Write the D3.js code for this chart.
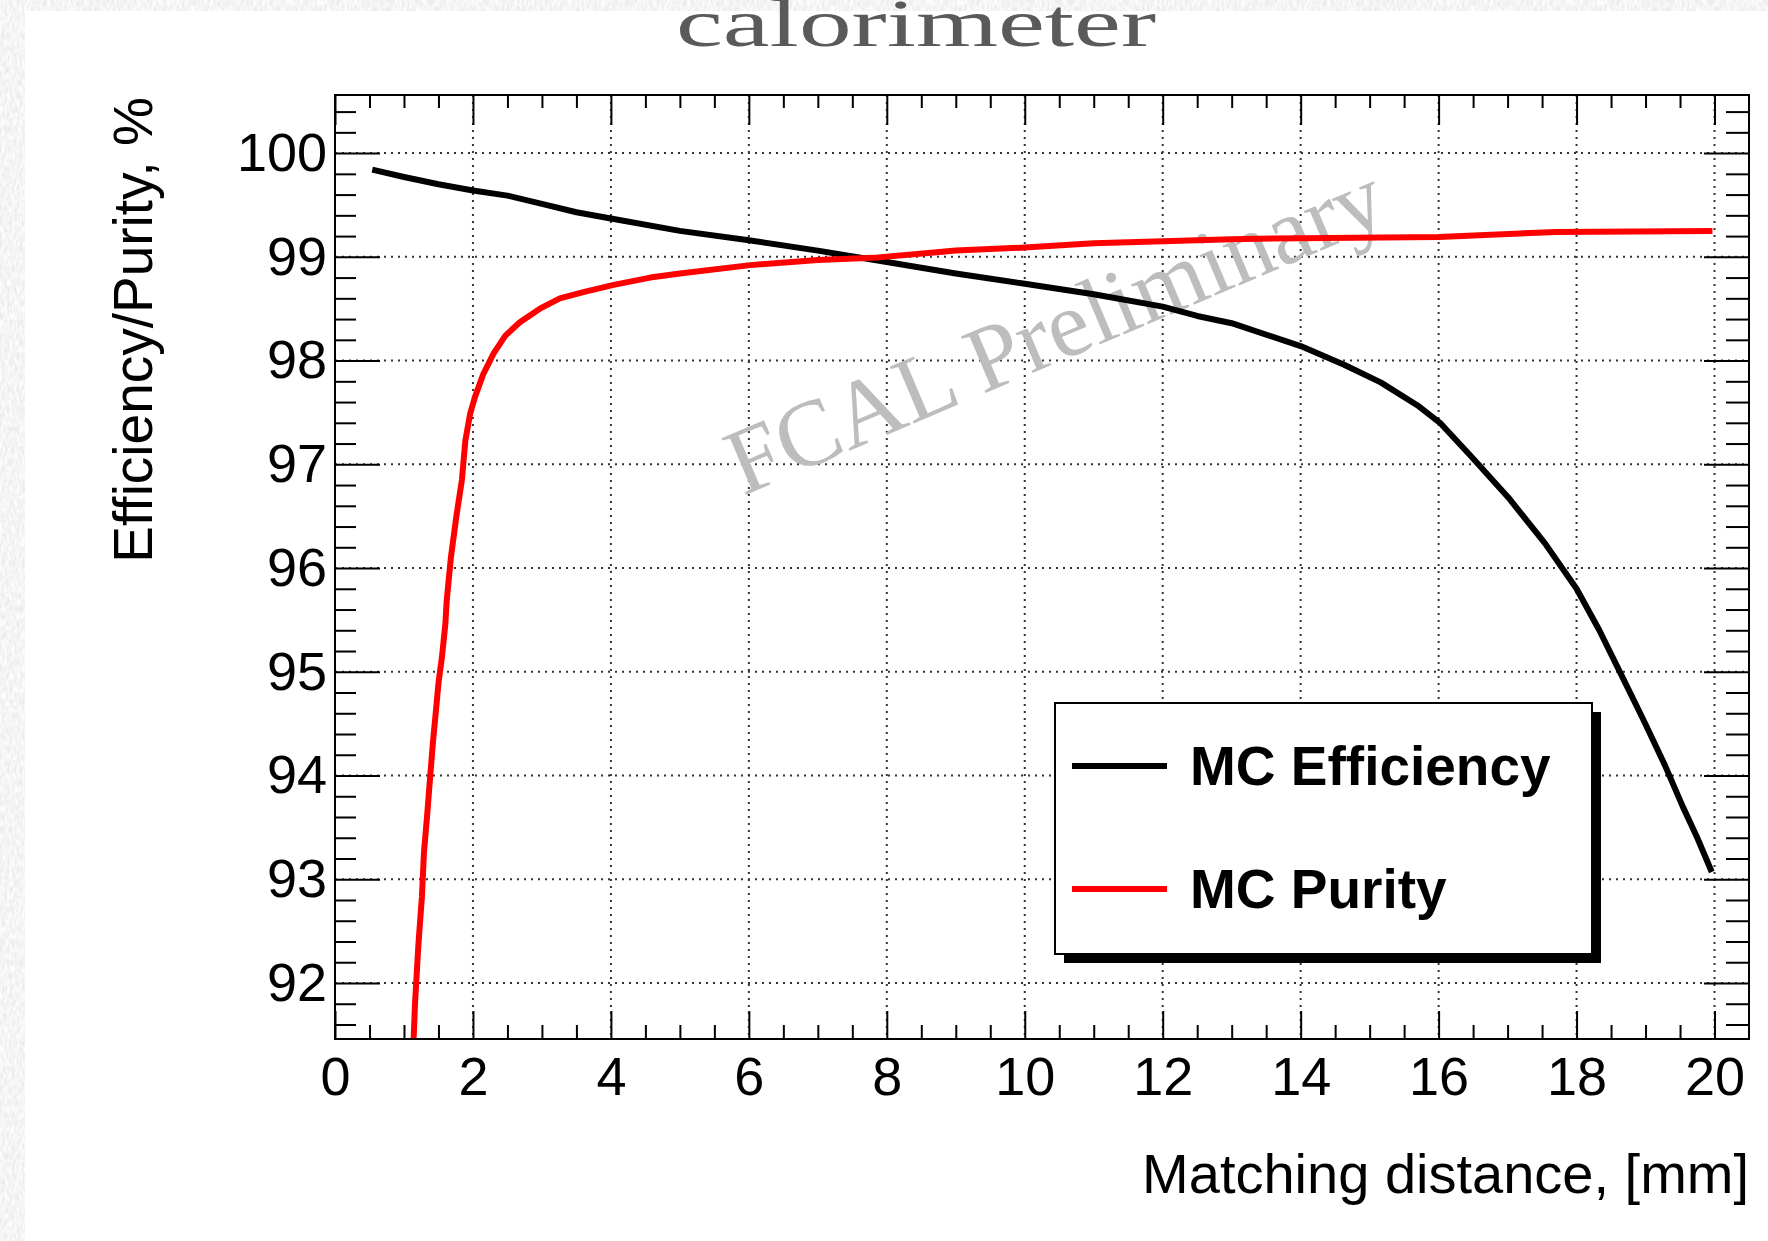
<!DOCTYPE html>
<html>
<head>
<meta charset="utf-8">
<script src="https://d3js.org/d3.v7.min.js"></script>
<style>
    body { margin: 0; background: #e4e4e4; }
    svg { display: block; font-family: "Liberation Sans", Arial, Helvetica, sans-serif; }
    .axis path { display: none; }
    .axis line { stroke: #000; stroke-width: 2; }
    .axis text { font-size: 54px; fill: #000; }
    .grid line { stroke: #333; stroke-width: 2; stroke-dasharray: 2 5; }
</style>
</head>
<body>
<svg id="chart"></svg>
<script>
    // values
    var effX = [0.54, 1.0, 1.5, 2.0, 2.5, 3.0, 3.5, 4.0, 5.0, 6.0, 7.0, 8.0, 9.0, 10.0, 11.0, 12.0, 12.5, 13.0, 14.0,
                14.63, 15.16, 15.69, 16.02, 16.48, 17.01, 17.54, 18.0, 18.33, 18.59, 18.96, 19.28, 19.54, 19.75, 19.96];
    var effY = [99.84, 99.77, 99.70, 99.64, 99.59, 99.51, 99.43, 99.37, 99.25, 99.16, 99.06, 98.95, 98.84, 98.74, 98.64, 98.52, 98.43, 98.36, 98.14,
                97.96, 97.79, 97.57, 97.40, 97.07, 96.68, 96.24, 95.80, 95.40, 95.05, 94.55, 94.10, 93.70, 93.40, 93.07];

    var purX = [1.14, 1.16, 1.21, 1.26, 1.29, 1.34, 1.38, 1.42, 1.46, 1.50, 1.55, 1.60, 1.62, 1.68, 1.76, 1.84, 1.89, 1.96, 2.03,
                2.15, 2.30, 2.47, 2.68, 2.97, 3.26, 3.60, 4.04, 4.57, 5.0, 6.02, 7.0, 7.8, 9.0, 10.0, 11.0, 12.0, 13.0, 14.0, 16.0, 17.7, 19.97];
    var purY = [91.46, 91.80, 92.38, 92.83, 93.26, 93.65, 93.99, 94.32, 94.60, 94.89, 95.14, 95.46, 95.69, 96.10, 96.50, 96.85, 97.23, 97.49, 97.65,
                97.87, 98.07, 98.24, 98.37, 98.50, 98.60, 98.66, 98.73, 98.80, 98.84, 98.92, 98.97, 98.99, 99.06, 99.09, 99.13, 99.15, 99.17, 99.18, 99.19, 99.24, 99.25];

    var xTicks = [0, 2, 4, 6, 8, 10, 12, 14, 16, 18, 20];
    var yTicks = [92, 93, 94, 95, 96, 97, 98, 99, 100];
    var seriesNames = ["MC Efficiency", "MC Purity"];
    var seriesColors = ["#000000", "#ff0000"];

    var W = 1768, H = 1241;
    var margin = {top: 95, right: 19, bottom: 202, left: 335};

    var x = d3.scaleLinear().domain([0, 20.5]).range([margin.left, W - margin.right]);
    var y = d3.scaleLinear().domain([91.46, 100.56]).range([H - margin.bottom, margin.top]);

    var xMinor = d3.range(0, 20.5, 0.5).filter(function(v) { return v % 2 !== 0; });
    var yMinor = d3.range(91.6, 100.56, 0.2).filter(function(v) { return Math.abs(v - Math.round(v)) > 0.01; });

    var svg = d3.select("#chart").attr("width", W).attr("height", H);

    // paper texture behind the slide
    var paper = svg.append("defs").append("filter").attr("id", "paper")
        .attr("x", 0).attr("y", 0).attr("width", 1).attr("height", 1);
    paper.append("feTurbulence").attr("type", "fractalNoise").attr("baseFrequency", "0.4 0.15").attr("numOctaves", 2);
    paper.append("feColorMatrix").attr("type", "matrix")
        .attr("values", "0.3 0 0 0 0.76  0.3 0 0 0 0.76  0.3 0 0 0 0.76  0 0 0 0 1");

    svg.append("rect").attr("width", W).attr("height", H).attr("filter", "url(#paper)");
    svg.append("rect").attr("x", 25).attr("y", 11).attr("width", W - 25).attr("height", H - 11).attr("fill", "#fff");

    svg.append("text")
        .attr("x", 676).attr("y", 46)
        .attr("textLength", 480).attr("lengthAdjust", "spacingAndGlyphs")
        .style("font-family", "'Liberation Serif', 'DejaVu Serif', serif")
        .style("font-size", "68px")
        .style("fill", "#5a5a5a")
        .text("calorimeter");

    var x0 = x.range()[0], x1 = x.range()[1], y0 = y.range()[1], y1 = y.range()[0];

    // dotted grid
    var grid = svg.append("g").attr("class", "grid");
    grid.selectAll(".gx").data(xTicks.filter(function(d) { return d > 0; })).enter().append("line")
        .attr("x1", function(d) { return x(d); }).attr("x2", function(d) { return x(d); })
        .attr("y1", y0).attr("y2", y1);
    grid.selectAll(".gy").data(yTicks).enter().append("line")
        .attr("x1", x0).attr("x2", x1)
        .attr("y1", function(d) { return y(d); }).attr("y2", function(d) { return y(d); });

    // watermark
    svg.append("text")
        .attr("transform", "translate(743,496) rotate(-23)")
        .style("font-family", "'Liberation Serif', 'Times New Roman', serif")
        .style("font-size", "94px")
        .style("fill", "#bdbdbd")
        .text("FCAL Preliminary");

    svg.append("clipPath").attr("id", "plotclip")
        .append("rect").attr("x", x0).attr("y", y0).attr("width", x1 - x0).attr("height", y1 - y0);

    var line = d3.line()
        .x(function(d) { return x(d[0]); })
        .y(function(d) { return y(d[1]); });

    var series = [d3.zip(effX, effY), d3.zip(purX, purY)];

    svg.append("g").attr("clip-path", "url(#plotclip)")
        .selectAll("path").data(series).enter().append("path")
        .attr("d", line)
        .attr("fill", "none")
        .attr("stroke", function(d, i) { return seriesColors[i]; })
        .attr("stroke-width", 6)
        .attr("stroke-linejoin", "round");

    // axes, ticks inside the frame
    svg.append("g").attr("class", "axis")
        .attr("transform", "translate(0," + y1 + ")")
        .call(d3.axisBottom(x).tickValues(xTicks).tickSize(-28).tickPadding(18).tickFormat(d3.format("d")));
    svg.append("g").attr("class", "axis")
        .attr("transform", "translate(0," + y1 + ")")
        .call(d3.axisBottom(x).tickValues(xMinor).tickSize(-14).tickFormat(""));
    svg.append("g").attr("class", "axis")
        .attr("transform", "translate(0," + y0 + ")")
        .call(d3.axisTop(x).tickValues(xTicks).tickSize(-30).tickFormat(""));
    svg.append("g").attr("class", "axis")
        .attr("transform", "translate(0," + y0 + ")")
        .call(d3.axisTop(x).tickValues(xMinor).tickSize(-13).tickFormat(""));

    svg.append("g").attr("class", "axis")
        .attr("transform", "translate(" + x0 + ",0)")
        .call(d3.axisLeft(y).tickValues(yTicks).tickSize(-45).tickPadding(8).tickFormat(d3.format("d")));
    svg.append("g").attr("class", "axis")
        .attr("transform", "translate(" + x0 + ",0)")
        .call(d3.axisLeft(y).tickValues(yMinor).tickSize(-21).tickFormat(""));
    svg.append("g").attr("class", "axis")
        .attr("transform", "translate(" + x1 + ",0)")
        .call(d3.axisRight(y).tickValues(yTicks).tickSize(-45).tickFormat(""));
    svg.append("g").attr("class", "axis")
        .attr("transform", "translate(" + x1 + ",0)")
        .call(d3.axisRight(y).tickValues(yMinor).tickSize(-23).tickFormat(""));

    svg.append("rect")
        .attr("x", x0).attr("y", y0).attr("width", x1 - x0).attr("height", y1 - y0)
        .attr("fill", "none").attr("stroke", "#000").attr("stroke-width", 2);

    // axis titles
    svg.append("text")
        .attr("x", x1).attr("y", 1193)
        .attr("text-anchor", "end")
        .style("font-size", "56px")
        .text("Matching distance, [mm]");

    svg.append("text")
        .attr("transform", "translate(152," + (y0 + 2) + ") rotate(-90)")
        .attr("text-anchor", "end")
        .style("font-size", "55px")
        .text("Efficiency/Purity, %");

    // legend with shadow
    var lg = svg.append("g").attr("transform", "translate(1055,703)");
    lg.append("rect").attr("x", 9).attr("y", 9).attr("width", 537).attr("height", 251).attr("fill", "#000");
    lg.append("rect").attr("width", 537).attr("height", 251).attr("fill", "#fff").attr("stroke", "#000").attr("stroke-width", 2);

    var item = lg.selectAll(".item").data(seriesNames).enter().append("g")
        .attr("transform", function(d, i) { return "translate(0," + (63 + i * 123) + ")"; });
    item.append("line")
        .attr("x1", 17).attr("x2", 112)
        .attr("stroke", function(d, i) { return seriesColors[i]; })
        .attr("stroke-width", 6);
    item.append("text")
        .attr("x", 135).attr("y", 19)
        .style("font-size", "55px").style("font-weight", "bold")
        .text(function(d) { return d; });
</script>
</body>
</html>
